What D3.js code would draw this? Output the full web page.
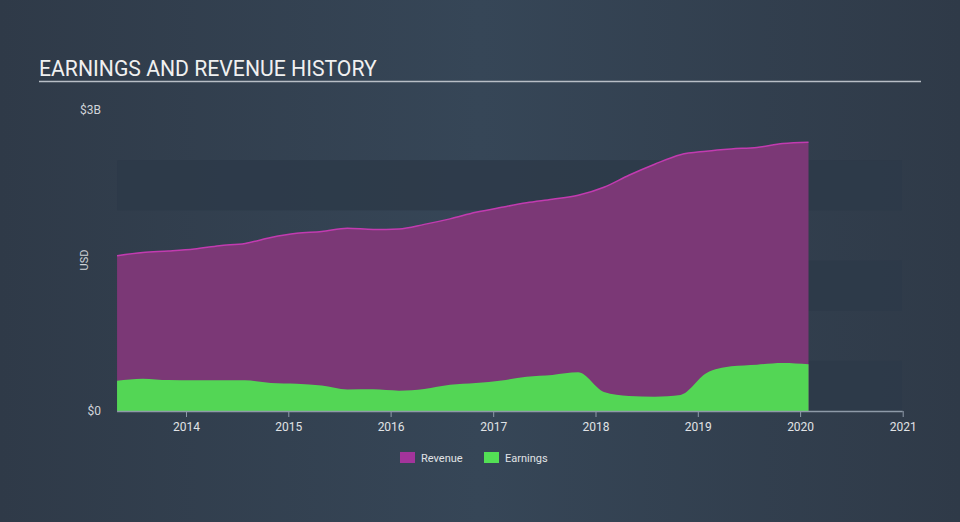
<!DOCTYPE html>
<html><head><meta charset="utf-8">
<script src="https://cdn.jsdelivr.net/npm/d3@7"></script>
<style>html,body{margin:0;padding:0;background:#333f4e;}svg{display:block;font-family:Roboto,"Open Sans",sans-serif;}</style>
</head><body><svg id="c" width="960" height="522"></svg>
<script>
const dates = ["2013-04-30","2013-07-31","2013-10-31","2014-01-31","2014-04-30","2014-07-31","2014-10-31","2015-01-31","2015-04-30","2015-07-31","2015-10-31","2016-01-31","2016-04-30","2016-07-31","2016-10-31","2017-01-31","2017-04-30","2017-07-31","2017-10-31","2018-01-31","2018-04-30","2018-07-31","2018-10-31","2019-01-31","2019-04-30","2019-07-31","2019-10-31","2020-01-31"];
const revenue = [1.548,1.58,1.595,1.615,1.648,1.67,1.73,1.772,1.79,1.822,1.81,1.815,1.86,1.915,1.98,2.03,2.075,2.11,2.15,2.23,2.35,2.46,2.555,2.59,2.612,2.627,2.665,2.678];
const earnings = [0.302,0.322,0.308,0.306,0.307,0.306,0.28,0.272,0.255,0.215,0.216,0.203,0.22,0.262,0.28,0.305,0.342,0.36,0.385,0.19,0.15,0.143,0.16,0.376,0.445,0.462,0.478,0.465];
const yTickLabels = ["$0","$3B"];
const xTickYears = [2014,2015,2016,2017,2018,2019,2020,2021];
const legendItems = ["Revenue","Earnings"];

const svg = d3.select("#c");
const defs = svg.append("defs");
const g = defs.append("linearGradient").attr("id","bg").attr("x1","0").attr("x2","1").attr("y1","0").attr("y2","0");
g.append("stop").attr("offset","0").attr("stop-color","#2f3a48");
g.append("stop").attr("offset","0.5").attr("stop-color","#364657");
g.append("stop").attr("offset","1").attr("stop-color","#2f3a48");
svg.append("rect").attr("width",960).attr("height",522).attr("fill","url(#bg)");

const parse = d3.timeParse("%Y-%m-%d");
const data = dates.map((d,i)=>({date:parse(d), rev:revenue[i], earn:earnings[i]}));

const x = d3.scaleTime().domain([new Date(2014,0,1), new Date(2021,0,1)]).range([186, 902.7]);
const y = d3.scaleLinear().domain([0,3]).range([411,110]);
const x0 = x(data[0].date);

// bands
[[0,0.5],[1,1.5],[2,2.5]].forEach(b=>{
  svg.append("rect").attr("x",x0).attr("width",902-x0).attr("y",y(b[1])).attr("height",y(b[0])-y(b[1])).attr("fill","#2d3a49").attr("opacity",0.85);
});

// title
svg.append("text").attr("x",39).attr("y",76).attr("fill","#f0f0f0").attr("font-size",21.2).text("EARNINGS AND REVENUE HISTORY");
svg.append("line").attr("x1",39).attr("x2",921).attr("y1",81.5).attr("y2",81.5).attr("stroke","#b8bec6").attr("stroke-width",1.5);

const curve = d3.curveMonotoneX;
const revArea = d3.area().x(d=>x(d.date)).y0(y(0)).y1(d=>y(d.rev)).curve(curve);
const revLine = d3.line().x(d=>x(d.date)).y(d=>y(d.rev)).curve(curve);
const earnArea = d3.area().x(d=>x(d.date)).y0(y(0)).y1(d=>y(d.earn)).curve(curve);

svg.append("path").datum(data).attr("d",revArea).attr("fill","#7b3876");
svg.append("path").datum(data).attr("d",revLine).attr("fill","none").attr("stroke","#c23bb0").attr("stroke-width",1.5);
svg.append("path").datum(data).attr("d",earnArea).attr("fill","#53d655");

// y labels
svg.append("text").attr("x",101).attr("y",114).attr("text-anchor","end").attr("fill","#d0d4d9").attr("font-size",12).text(yTickLabels[1]);
svg.append("text").attr("x",101).attr("y",415).attr("text-anchor","end").attr("fill","#d0d4d9").attr("font-size",12).text(yTickLabels[0]);
svg.append("text").attr("transform","translate(88,260) rotate(-90)").attr("text-anchor","middle").attr("fill","#d0d4d9").attr("font-size",11).text("USD");

// x axis
const axis = d3.axisBottom(x).tickValues(xTickYears.map(yv=>new Date(yv,0,1))).tickFormat(d3.timeFormat("%Y")).tickSize(6).tickSizeOuter(0);
const ax = svg.append("g").attr("transform","translate(0,411)").call(axis);
ax.select(".domain").remove();
ax.append("line").attr("x1",x0).attr("x2",902.7).attr("y1",0.5).attr("y2",0.5).attr("stroke","#8e9aa8").attr("stroke-width",1.5);
ax.selectAll(".tick line").attr("stroke","#8e9aa8");
ax.selectAll(".tick text").attr("fill","#e0e3e6").attr("font-size",12).attr("font-family","Roboto,sans-serif").attr("dy","0.9em");

// legend
const lg = svg.append("g");
const lcolors = ["#a3349b","#53e055"];
const lx = [400,484];
legendItems.forEach((t,i)=>{
  lg.append("rect").attr("x",lx[i]).attr("y",452).attr("width",15).attr("height",11).attr("fill",lcolors[i]);
  lg.append("text").attr("x",lx[i]+21).attr("y",462).attr("fill","#e0e3e6").attr("font-size",11).text(t);
});
</script></body></html>
